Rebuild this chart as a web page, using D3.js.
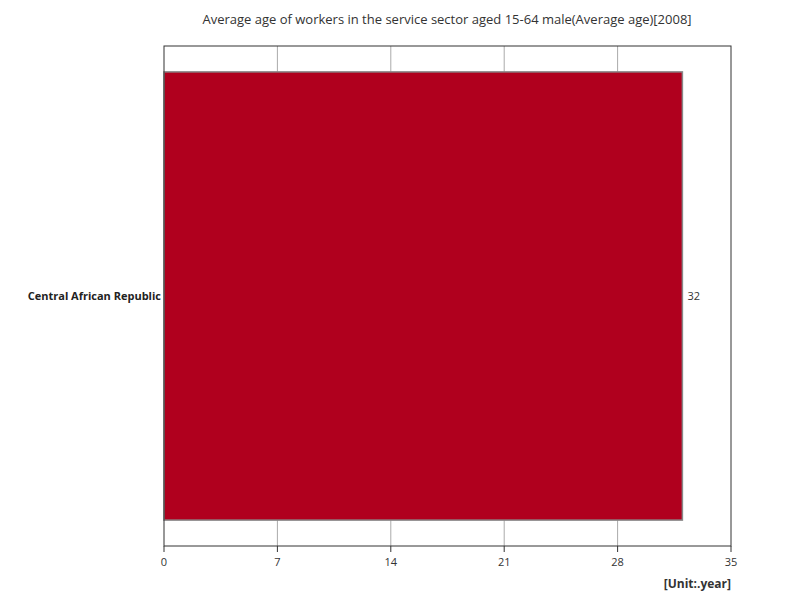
<!DOCTYPE html>
<html><head><meta charset="utf-8">
<script src="https://cdn.jsdelivr.net/npm/d3@7"></script>
<style>body{margin:0;background:#fff;font-family:"Open Sans",sans-serif;}</style>
</head><body><svg id="c" width="800" height="600"></svg>
<script>
const categories=["Central African Republic"];
const values=[32];
const ticks=[0,7,14,21,28,35];
const title="Average age of workers in the service sector aged 15-64 male(Average age)[2008]";
const unit="[Unit:.year]";
const svg=d3.select("#c");
const L=164,R=731,T=46,B=546;
const x=d3.scaleLinear().domain([0,35]).range([L,R]);
const y=d3.scaleBand().domain(categories).range([T,B]).paddingInner(0.1).paddingOuter(0.052);
svg.append("text").attr("x",447).attr("y",24).attr("text-anchor","middle").attr("font-size",13).attr("fill","#333").text(title);
svg.selectAll(".g").data(ticks.slice(1,-1)).enter().append("line").attr("x1",d=>x(d)).attr("x2",d=>x(d)).attr("y1",T).attr("y2",B).attr("stroke","#aaa");
svg.selectAll(".b").data(values).enter().append("rect").attr("x",x(0)).attr("y",(d,i)=>y(categories[i])).attr("width",d=>x(d)-x(0)).attr("height",y.bandwidth()).attr("fill","#b0001e").attr("stroke","#888").attr("stroke-width",1.5);
svg.append("rect").attr("x",L).attr("y",T).attr("width",R-L).attr("height",B-T).attr("fill","none").attr("stroke","#333");
svg.selectAll(".t").data(ticks).enter().append("line").attr("x1",d=>x(d)).attr("x2",d=>x(d)).attr("y1",B).attr("y2",B+6).attr("stroke","#333");
svg.selectAll(".tl").data(ticks).enter().append("text").attr("x",d=>x(d)).attr("y",B+20).attr("text-anchor","middle").attr("font-size",11).attr("fill","#333").text(d=>d);
svg.selectAll(".cl").data(categories).enter().append("text").attr("x",L-3).attr("y",d=>y(d)+y.bandwidth()/2+4).attr("text-anchor","end").attr("font-size",11).attr("font-weight","bold").attr("fill","#222").text(d=>d);
svg.selectAll(".vl").data(values).enter().append("text").attr("x",d=>x(d)+5).attr("y",(d,i)=>y(categories[i])+y.bandwidth()/2+4).attr("font-size",11).attr("fill","#333").text(d=>d);
svg.append("text").attr("x",R).attr("y",588).attr("text-anchor","end").attr("font-size",12).attr("font-weight","bold").attr("fill","#333").text(unit);
</script></body></html>
